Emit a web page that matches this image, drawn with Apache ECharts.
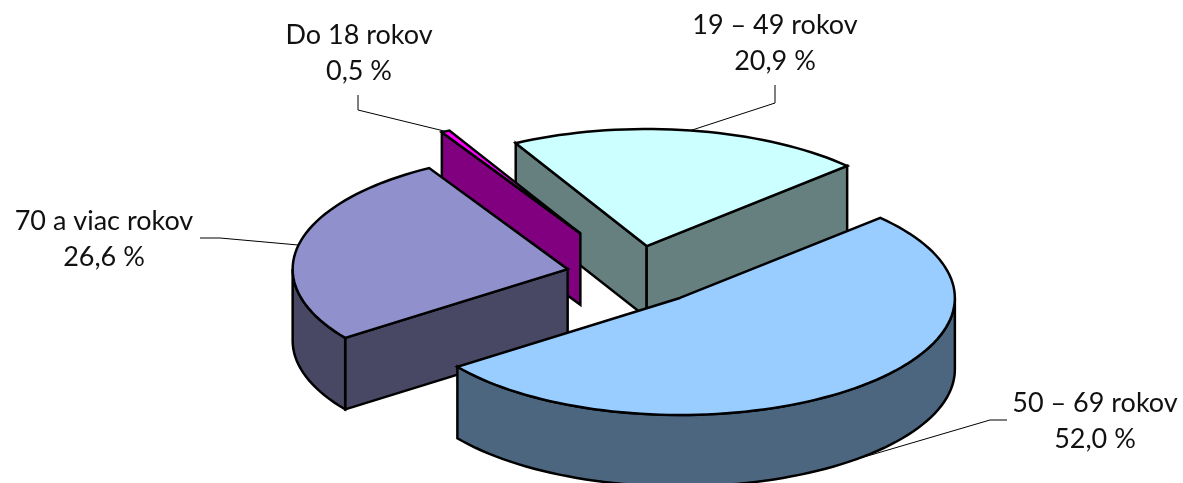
<!DOCTYPE html>
<html lang="sk">

<head>
    <meta charset="UTF-8">
    <title>Vekove skupiny</title>
    <script src="https://cdn.jsdelivr.net/npm/echarts@6/dist/echarts.min.js"></script>
    <style>
        body {
            margin: 0;
            padding: 0;
            background: #fff;
            overflow: hidden;
        }

        #chart {
            width: 1183px;
            height: 483px;
        }
    </style>
</head>

<body>
    <div id="chart"></div>
    <script>
        var categories = ['Do 18 rokov', '19 – 49 rokov', '50 – 69 rokov', '70 a viac rokov'];
        var shares = [0.5, 20.9, 52.0, 26.6];
        var explode = [0.41, 0.2525, 0.2525, 0.2525];
        var topColors = ['#ff00ff', '#ccffff', '#99ccff', '#9090cc'];
        var sideColors = ['#800080', '#668080', '#4d6680', '#484864'];
        var drawOrder = [1, 0, 3, 2]; // back to front

        // label centre, leader elbow, leader end
        var labelPos = [[359, 53], [775, 43], [1095, 421], [104, 239]];
        var elbow = [[358, 110], [775, 103], [990, 420], [220, 238]];
        var leaderEnd = [[358, 95], [775, 85], [1007, 420], [200, 238]];

        var center = [635.6, 275.2];
        var rx = 275, ry = 117, depth = 71.5;
        var startAngle = 120.24;

        // slice angles, clockwise in degrees
        var from = [], to = [], a = startAngle;
        shares.forEach(function (s, i) {
            from[i] = a;
            a -= s * 3.6;
            to[i] = a;
        });

        function renderSlice(params, api) {
            var i = api.value(0);
            var a0 = from[i], a1 = to[i];
            var mid = (a0 + a1) / 2 * Math.PI / 180;
            var cx = center[0] + explode[i] * rx * Math.cos(mid);
            var cy = center[1] - explode[i] * ry * Math.sin(mid);

            function pt(deg, drop) {
                var r = deg * Math.PI / 180;
                return [cx + rx * Math.cos(r), cy - ry * Math.sin(r) + (drop || 0)];
            }
            function arc(d0, d1, drop) {
                var out = [], n = Math.max(2, Math.ceil(Math.abs(d0 - d1) / 2));
                for (var k = 0; k <= n; k++) out.push(pt(d0 + (d1 - d0) * k / n, drop));
                return out;
            }
            var edge = { stroke: '#000', lineWidth: 2.5 };
            function face(points, color) {
                return {
                    type: 'polygon',
                    shape: { points: points },
                    style: Object.assign({ fill: color }, edge)
                };
            }
            function wall(deg) {
                return face([[cx, cy], pt(deg), pt(deg, depth), [cx, cy + depth]], sideColors[i]);
            }

            var children = [];

            // leader line, starts on the rim at mid angle
            var anchor = pt((a0 + a1) / 2, Math.sin(mid) < 0 ? depth : 0);
            children.push({
                type: 'polyline',
                shape: { points: [anchor, elbow[i], leaderEnd[i]] },
                style: { stroke: '#000', lineWidth: 1, fill: null }
            });

            // radial walls that face the viewer
            if (Math.cos(a0 * Math.PI / 180) < 0) children.push(wall(a0));
            if (Math.cos(a1 * Math.PI / 180) > 0) children.push(wall(a1));

            // outer wall, only the part of the rim in the lower half
            for (var base = -360; base <= 0; base += 360) {
                var hi = Math.min(a0, base), lo = Math.max(a1, base - 180);
                if (hi > lo) {
                    children.push(face(arc(hi, lo, 0).concat(arc(lo, hi, depth)), sideColors[i]));
                }
            }

            // top
            children.push(face([[cx, cy]].concat(arc(a0, a1, 0)), topColors[i]));

            // label
            children.push({
                type: 'text',
                z2: 10,
                style: {
                    text: categories[i] + '\n' + shares[i].toFixed(1).replace('.', ',') + ' %',
                    x: labelPos[i][0],
                    y: labelPos[i][1],
                    align: 'center',
                    verticalAlign: 'middle',
                    lineHeight: 36,
                    fill: '#111',
                    font: '27px Lato, sans-serif'
                }
            });

            return { type: 'group', children: children };
        }

        var myChart = echarts.init(document.getElementById('chart'));
        myChart.setOption({
            backgroundColor: '#fff',
            animation: false,
            series: [{
                type: 'custom',
                coordinateSystem: 'none',
                renderItem: renderSlice,
                data: drawOrder.map(function (i) { return [i, shares[i]]; })
            }]
        });
    </script>
</body>

</html>
